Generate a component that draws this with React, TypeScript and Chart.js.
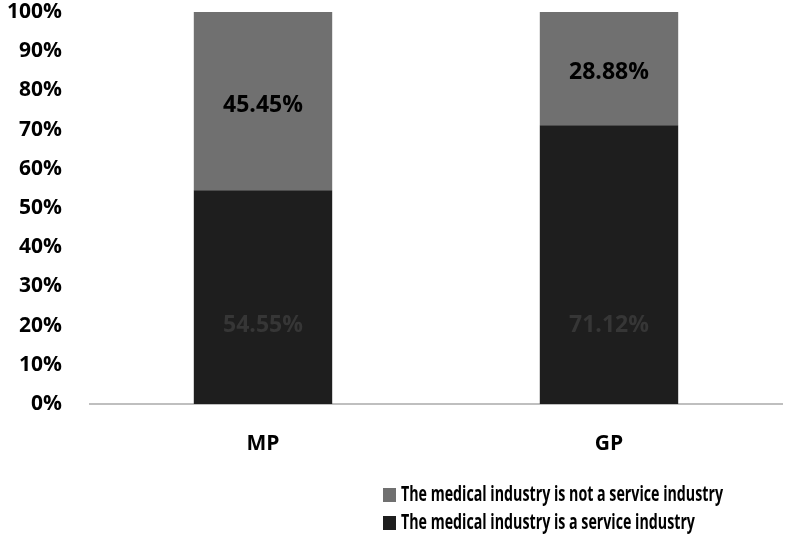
import React, { useEffect, useRef } from "react";
import { Chart, registerables } from "chart.js";
Chart.register(...registerables);

const categories = ["MP", "GP"];
const serviceLabel = "The medical industry is a service industry";
const notServiceLabel = "The medical industry is not a service industry";
const serviceValues = [54.55, 71.12];
const notServiceValues = [45.45, 28.88];
const yMin = 0;
const yMax = 100;
const yStep = 10;

const FONT = "'Open Sans', sans-serif";

const labelPlugin = {
  id: "valueLabels",
  afterDatasetsDraw(chart: any) {
    const ctx = chart.ctx;
    const yScale = chart.scales.y;
    ctx.save();
    ctx.textAlign = "center";
    ctx.textBaseline = "middle";
    ctx.font = `bold 23px ${FONT}`;
    chart.data.datasets.forEach((ds: any, i: number) => {
      const meta = chart.getDatasetMeta(i);
      meta.data.forEach((bar: any, j: number) => {
        const v = ds.data[j];
        const y = ds.labelAnchor != null ? yScale.getPixelForValue(ds.labelAnchor) : (bar.y + bar.base) / 2 + 4;
        ctx.fillStyle = ds.labelColor;
        ctx.fillText(v.toFixed(2) + "%", bar.x, y);
      });
    });
    ctx.restore();
  },
};

const legendPlugin = {
  id: "stackLegend",
  afterDraw(chart: any) {
    const ctx = chart.ctx;
    const items = [...chart.data.datasets].reverse();
    ctx.save();
    ctx.textBaseline = "middle";
    ctx.textAlign = "left";
    ctx.font = `bold 21px ${FONT}`;
    const widest = Math.max(...items.map((d: any) => ctx.measureText(d.label).width));
    const sx = 322 / widest;
    const x0 = 383;
    const y0 = chart.chartArea.bottom + 91;
    items.forEach((ds: any, i: number) => {
      const y = y0 + i * 28;
      ctx.fillStyle = ds.backgroundColor;
      ctx.fillRect(x0, y - 7, 13, 14);
      ctx.fillStyle = "#000";
      ctx.save();
      ctx.translate(x0 + 18, y);
      ctx.scale(sx, 1);
      ctx.fillText(ds.label, 0, 0);
      ctx.restore();
    });
    ctx.restore();
  },
};

export default function App() {
  const ref = useRef<HTMLCanvasElement>(null);
  useEffect(() => {
    const chart = new Chart(ref.current!, {
      type: "bar",
      data: {
        labels: categories,
        datasets: [
          {
            label: serviceLabel,
            data: serviceValues,
            backgroundColor: "#1e1e1e",
            barPercentage: 0.8,
            categoryPercentage: 0.5,
            labelColor: "#363636",
            labelAnchor: 20,
          } as any,
          {
            label: notServiceLabel,
            data: notServiceValues,
            backgroundColor: "#707070",
            barPercentage: 0.8,
            categoryPercentage: 0.5,
            labelColor: "#000000",
          } as any,
        ],
      },
      options: {
        responsive: false,
        animation: false,
        layout: { padding: { top: 12, right: 5, left: 0, bottom: 0 } },
        plugins: { legend: { display: false }, tooltip: { enabled: false } },
        scales: {
          x: {
            stacked: true,
            grid: { display: false, drawTicks: false },
            border: { display: true, color: "#bfbfbf", width: 2 },
            ticks: { color: "#000", font: { family: FONT, weight: "bold", size: 21 }, padding: 27 },
            afterFit: (s: any) => { s.height = 138; s.paddingLeft = 0; s.paddingRight = 0; },
          },
          y: {
            stacked: true,
            min: yMin,
            max: yMax,
            grid: { display: false, drawTicks: false },
            border: { display: false },
            ticks: {
              stepSize: yStep,
              color: "#000",
              padding: 28,
              font: { family: FONT, weight: "bold", size: 21 },
              callback: (v: any) => v + "%",
            },
            afterFit: (s: any) => { s.width = 90; s.paddingTop = 0; s.paddingBottom = 0; },
          },
        },
      },
      plugins: [labelPlugin, legendPlugin],
    });
    return () => chart.destroy();
  }, []);
  return (
    <div style={{ position: "absolute", left: 0, top: 0, width: 787, height: 542, background: "#fff" }}>
      <canvas ref={ref} width={787} height={542} />
    </div>
  );
}
